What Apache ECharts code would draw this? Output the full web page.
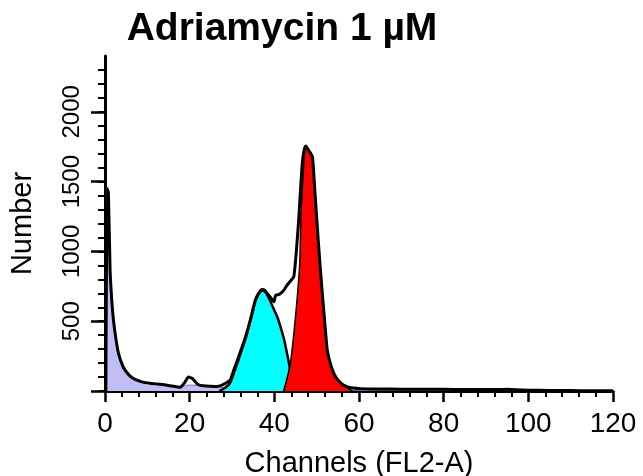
<!DOCTYPE html>
<html>
<head>
<meta charset="utf-8">
<script src="https://cdn.jsdelivr.net/npm/echarts@6/dist/echarts.min.js"></script>
<style>
html,body{margin:0;padding:0;background:#fff;}
#chart{width:643px;height:476px;}
</style>
</head>
<body>
<div id="chart"></div>
<script>
// ---- Data ----
var titleText = 'Adriamycin 1 µM';
var xName = 'Channels (FL2-A)';
var yName = 'Number';
var xTicks = [0, 20, 40, 60, 80, 100, 120];
var yTickLabels = [500, 1000, 1500, 2000];

// total histogram (black outline)
var totalCh = [0.2, 0.5, 0.8, 1.2, 1.6, 2.0, 2.6, 3.2, 4.3, 5.5, 6.7, 8, 9.5, 11, 13, 15, 17.8, 18.8, 19.7, 20.7, 21.7, 22.5, 24, 26.5, 27.5, 28.5, 29.6, 30.4, 31.5, 33.2, 34.5, 35.5, 36.3, 37.1, 37.7, 38.3, 39.1, 39.9, 40.3, 41.0, 41.5, 42.3, 43.0, 44.0, 44.6, 45.2, 45.8, 46.2, 46.6, 47.0, 47.4, 48.2, 49.0, 49.6, 50.2, 50.8, 51.4, 52.0, 52.5, 53.5, 54.5, 55.8, 57.3, 60.4, 65, 70, 75, 80, 85, 90, 93, 95, 97, 100, 105, 110, 115, 120];
var totalN  = [0, 1450, 1420, 870, 650, 507, 370, 268, 172, 120, 89, 72, 60, 54, 48, 40, 26, 60, 100, 88, 53, 40, 36, 33, 40, 55, 80, 148, 240, 388, 530, 651, 700, 727, 722, 699, 670, 639, 686, 690, 699, 725, 758, 795, 818, 1000, 1248, 1450, 1631, 1720, 1755, 1720, 1679, 1420, 1153, 900, 674, 460, 292, 170, 100, 55, 29, 17, 14, 13, 12, 12, 11, 10, 10, 12, 9, 6, 4, 3, 2, 2];

// debris component (lavender)
var debrisCh = [0.2, 0.5, 0.8, 1.2, 1.6, 2.0, 2.6, 3.2, 4.3, 5.5, 6.7, 8, 9.5, 11, 13, 15, 17.8, 18.8, 19.7, 20.7, 22, 24, 26.5, 28, 30, 32, 34, 36, 40, 50, 60, 80, 100, 101];
var debrisN  = [0, 1450, 1420, 870, 650, 507, 370, 268, 172, 120, 89, 72, 60, 54, 48, 40, 26, 38, 42, 42, 40, 36, 30, 22, 15, 10, 7, 5, 4, 4, 4, 4, 3, 0];

// G1 peak (cyan)
var g1Ch = [27, 28.5, 29.6, 30.4, 31.5, 33.2, 34.5, 35.5, 36.3, 37.1, 37.7, 38.3, 39.1, 39.9, 40.7, 41.5, 42.3, 43.0, 43.6, 44.2, 44.8, 45.5];
var g1N  = [0, 25, 60, 125, 220, 375, 520, 640, 695, 720, 715, 690, 640, 585, 530, 455, 370, 268, 175, 60, 20, 0];

// G2 peak (red)
var g2Ch = [42.2, 43.0, 43.8, 45.0, 46.0, 46.3, 47.0, 47.4, 48.2, 49.0, 49.6, 50.2, 50.8, 51.4, 52.0, 52.5, 53.5, 54.5, 55.8, 57.3, 58.5];
var g2N  = [0, 90, 197, 531, 914, 1272, 1655, 1755, 1720, 1679, 1420, 1153, 900, 674, 460, 292, 170, 100, 55, 20, 0];

function zip(a, b) { return a.map(function (v, i) { return [v, b[i]]; }); }

var FONT = '"Liberation Sans", Arial, Helvetica, sans-serif';
var chart = echarts.init(document.getElementById('chart'), null, {renderer: 'canvas'});

var LEFT = 105, RIGHT = 30, BOTTOM = 85, TOP = 56;
var plotH = 476 - TOP - BOTTOM;           // height for 0..2400
function topFor(v) { return 476 - BOTTOM - plotH * v / 2400; }

chart.setOption({
  animation: false,
  backgroundColor: '#ffffff',
  title: {
    text: titleText,
    left: 277,
    textAlign: 'center',
    top: 5,
    textStyle: {fontFamily: FONT, fontSize: 39, fontWeight: 'bold', color: '#000'}
  },
  grid: [
    {left: LEFT, right: RIGHT, top: TOP, bottom: BOTTOM, containLabel: false, outerBoundsMode: 'none'},
    {left: LEFT, right: RIGHT, top: topFor(2000), bottom: BOTTOM, containLabel: false, outerBoundsMode: 'none'},
    {left: LEFT, right: RIGHT, top: topFor(2300), bottom: BOTTOM, containLabel: false, outerBoundsMode: 'none'}
  ],
  xAxis: [
    {
      type: 'value', gridIndex: 0, min: xTicks[0], max: xTicks[xTicks.length - 1], interval: 20,
      name: xName, nameLocation: 'middle', nameGap: 58,
      nameTextStyle: {fontFamily: FONT, fontSize: 29, color: '#000'},
      axisLine: {show: true, onZero: false, lineStyle: {color: '#000', width: 3}},
      axisTick: {show: true, length: 11, lineStyle: {color: '#000', width: 2.5}},
      minorTick: {show: true, splitNumber: 5, length: 6, lineStyle: {color: '#000', width: 2}},
      axisLabel: {fontFamily: FONT, fontSize: 28, color: '#000', margin: 19},
      splitLine: {show: false}
    },
    {type: 'value', gridIndex: 1, min: 0, max: 120, show: false},
    {type: 'value', gridIndex: 2, min: 0, max: 120, show: false}
  ],
  yAxis: [
    {
      type: 'value', gridIndex: 0, min: 0, max: 2400,
      name: yName, nameLocation: 'middle', nameGap: 68, nameRotate: 90,
      nameTextStyle: {fontFamily: FONT, fontSize: 29, color: '#000'},
      axisLine: {show: true, onZero: false, lineStyle: {color: '#000', width: 3}},
      axisTick: {show: false},
      axisLabel: {show: false},
      splitLine: {show: false}
    },
    {
      type: 'value', gridIndex: 1, min: 0, max: yTickLabels[yTickLabels.length - 1], interval: 500,
      axisLine: {show: false},
      axisTick: {show: true, length: 14, lineStyle: {color: '#000', width: 2.5}},
      axisLabel: {
        show: true, rotate: 90, fontFamily: FONT, fontSize: 24, color: '#000', margin: 21,
        formatter: function (v) { return yTickLabels.indexOf(v) >= 0 ? String(v) : ''; }
      },
      splitLine: {show: false}
    },
    {
      type: 'value', gridIndex: 2, min: 0, max: 2300, interval: 100,
      axisLine: {show: false},
      axisTick: {show: true, length: 7, lineStyle: {color: '#000', width: 2}},
      axisLabel: {show: false},
      splitLine: {show: false}
    }
  ],
  series: [
    {
      type: 'line', xAxisIndex: 0, yAxisIndex: 0, data: zip(debrisCh, debrisN), z: 1,
      symbol: 'none', smooth: 0.15,
      lineStyle: {color: '#7070b0', width: 1},
      areaStyle: {color: '#bfbff5', opacity: 1}
    },
    {
      type: 'line', xAxisIndex: 0, yAxisIndex: 0, data: zip(g1Ch, g1N), z: 2,
      symbol: 'none', smooth: 0.2,
      lineStyle: {color: '#000', width: 2.5, join: 'round'},
      areaStyle: {color: '#00ffff', opacity: 1}
    },
    {
      type: 'line', xAxisIndex: 0, yAxisIndex: 0, data: zip(g2Ch, g2N), z: 3,
      symbol: 'none', smooth: 0.15,
      lineStyle: {color: '#000', width: 1.5, join: 'round'},
      areaStyle: {color: '#ff0000', opacity: 1}
    },
    {
      type: 'line', xAxisIndex: 0, yAxisIndex: 0, data: zip(totalCh, totalN), z: 4,
      symbol: 'none', smooth: 0.15,
      lineStyle: {color: '#000', width: 3, join: 'round'}
    }
  ]
});
</script>
</body>
</html>
